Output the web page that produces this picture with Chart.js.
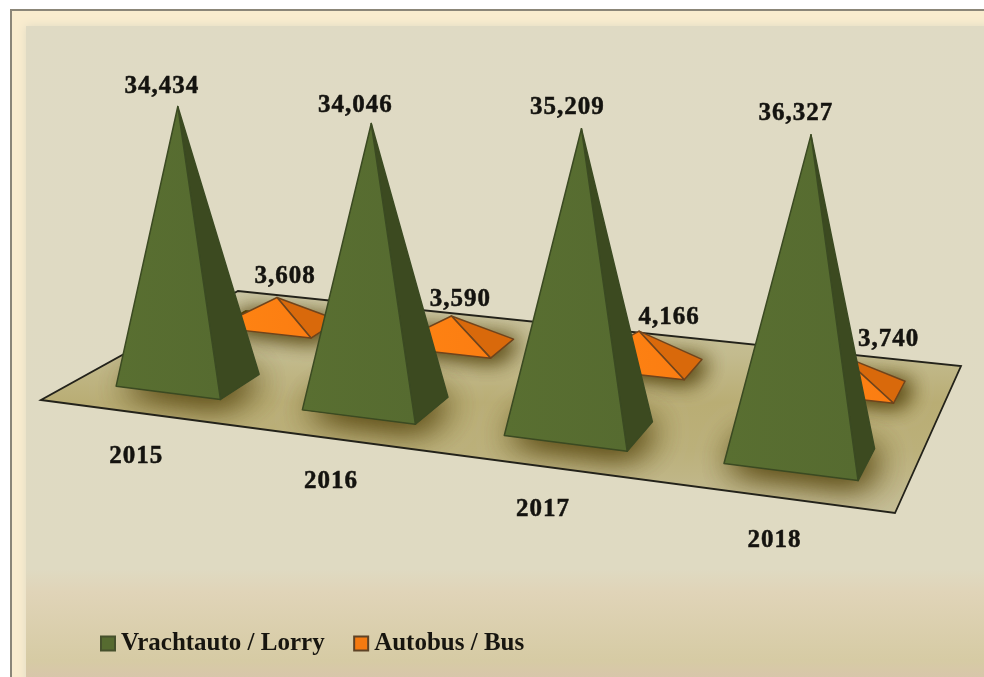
<!DOCTYPE html>
<html><head><meta charset="utf-8">
<style>html,body{margin:0;padding:0;background:#fff}canvas{display:block}</style>
<script src="https://cdn.jsdelivr.net/npm/chart.js@4"></script>
</head><body><canvas id="c" width="984" height="677"></canvas>
<script>
const categories = ['2015', '2016', '2017', '2018'];
const lorry = [34434, 34046, 35209, 36327];
const bus = [3608, 3590, 4166, 3740];
const seriesNames = ['Vrachtauto / Lorry', 'Autobus / Bus'];

// floor plane corners in canvas space: front-left, front-right, back-right, back-left
const FLOOR = [[41,400],[895,513],[961,366],[238,291]];
const STYLE = [
  {depth:.25, halfDepth:.10, leftRatio:.9, front:'#566b30', frontHi:'#596f31', side:'#3c4a20', line:'#3b4a22',
   labelDx:[-16,-16,-14,-15], labelDy:[-20,-18,-21,-21]},
  {depth:.75, halfDepth:.085, leftRatio:1, front:'#fb7d12', frontHi:'#ff8412', side:'#d9690b', line:'#70441c',
   labelDx:[8,9,30,47], labelDy:[-21,-16,-14,-16]}
];
const FONT = 'bold 25px "Liberation Serif", serif';

function homography(q){
  const [p0,p1,p2,p3]=q;
  const sx=p0[0]-p1[0]+p2[0]-p3[0], sy=p0[1]-p1[1]+p2[1]-p3[1];
  const dx1=p1[0]-p2[0], dx2=p3[0]-p2[0], dy1=p1[1]-p2[1], dy2=p3[1]-p2[1];
  const det=dx1*dy2-dx2*dy1;
  const g=(sx*dy2-dx2*sy)/det, h=(dx1*sy-sx*dy1)/det;
  const a=p1[0]-p0[0]+g*p1[0], b=p3[0]-p0[0]+h*p3[0], c=p0[0];
  const d=p1[1]-p0[1]+g*p1[1], e=p3[1]-p0[1]+h*p3[1], f=p0[1];
  return (u,v)=>{const w=g*u+h*v+1;return [(a*u+b*v+c)/w,(d*u+e*v+f)/w];};
}
const project = homography(FLOOR);

function poly(ctx,pts){ctx.beginPath();pts.forEach((p,i)=>i?ctx.lineTo(p[0],p[1]):ctx.moveTo(p[0],p[1]));ctx.closePath();}

function geometry(chart,dsIndex,i){
  const area=chart.chartArea, bar=chart.getDatasetMeta(dsIndex).data[i], st=STYLE[dsIndex];
  const yS=chart.scales.y, value=chart.data.datasets[dsIndex].data[i];
  const u=(bar.x-area.left)/area.width, hu=bar.width/2/area.width;
  const c=project(u,st.depth);
  const persp=.796+(c[1]-380)*.00118;
  const h=(yS.getPixelForValue(0)-yS.getPixelForValue(value))*persp;
  const apex=[c[0]+(c[0]-420)*h*.00012,c[1]-h];
  return {
    apex,
    fl:project(u-hu*st.leftRatio,st.depth-st.halfDepth),
    fr:project(u+hu,st.depth-st.halfDepth),
    br:project(u+hu,st.depth+st.halfDepth),
    bl:project(u-hu*st.leftRatio,st.depth+st.halfDepth)
  };
}

const pyramids = {
  id:'pyramids',
  beforeDraw(chart){
    const ctx=chart.ctx,W=chart.width,H=chart.height;
    ctx.save();
    ctx.fillStyle='#fff';ctx.fillRect(0,0,W,H);
    ctx.fillStyle='#8b8678';ctx.fillRect(10,9,W,H);
    ctx.fillStyle='#f9ecce';ctx.fillRect(12,11,W,H);
    const g=ctx.createLinearGradient(0,0,0,H);
    g.addColorStop(0,'#dfdac4');g.addColorStop(.84,'#dfdac2');g.addColorStop(.875,'#e0d4b8');
    g.addColorStop(.975,'#d6cba4');g.addColorStop(1,'#d8c6aa');
    ctx.shadowColor='#dfdac4';ctx.shadowBlur=9;
    ctx.fillStyle=g;ctx.fillRect(26,26,W+30,H+30);
    ctx.restore();
  },
  beforeDatasetsDraw(chart){
    const ctx=chart.ctx;
    ctx.save();
    const g=ctx.createLinearGradient(0,295,0,510);
    g.addColorStop(0,'#cbc6a3');g.addColorStop(.28,'#c3bb8e');g.addColorStop(.5,'#b9ad74');
    g.addColorStop(.72,'#bbb07a');g.addColorStop(1,'#c4bc94');
    poly(ctx,FLOOR);ctx.fillStyle=g;ctx.fill();
    ctx.save();poly(ctx,FLOOR);ctx.clip();
    [1,0].forEach(ds=>categories.forEach((_,i)=>{
      const p=geometry(chart,ds,i);
      for(let pass=0;pass<2;pass++){
        ctx.shadowColor='rgba(82,66,10,.95)';ctx.shadowBlur=ds?22:34;ctx.shadowOffsetX=ds?7:4;ctx.shadowOffsetY=ds?2:4;
        ctx.fillStyle='rgba(82,66,10,.95)';
        poly(ctx,[p.fl,p.fr,p.br,p.bl]);ctx.fill();
      }
    }));
    ctx.restore();
    poly(ctx,FLOOR);ctx.strokeStyle='#23221a';ctx.lineWidth=1.8;ctx.stroke();
    ctx.fillStyle='#14130f';ctx.strokeStyle='#14130f';ctx.lineWidth=.5;ctx.font=FONT;ctx.letterSpacing='1px';ctx.textAlign='center';ctx.textBaseline='middle';
    const xS=chart.scales.x,a=chart.chartArea;
    categories.forEach((c,i)=>{
      const p=project((xS.getPixelForValue(i)-a.left)/a.width,0);
      ctx.fillText(c,p[0]+3.5,p[1]+44);ctx.strokeText(c,p[0]+3.5,p[1]+44);
    });
    ctx.restore();
  },
  beforeDatasetDraw(chart,args){
    const ctx=chart.ctx,ds=args.index,st=STYLE[ds];
    ctx.save();
    ctx.lineJoin='round';ctx.lineWidth=1.5;ctx.strokeStyle=st.line;
    categories.forEach((_,i)=>{
      const p=geometry(chart,ds,i);
      const g=ctx.createLinearGradient(p.fl[0],0,p.fr[0],0);
      g.addColorStop(0,st.frontHi);g.addColorStop(1,st.front);
      poly(ctx,[p.apex,p.fr,p.br]);ctx.fillStyle=st.side;ctx.fill();ctx.stroke();
      poly(ctx,[p.apex,p.fl,p.fr]);ctx.fillStyle=g;ctx.fill();ctx.stroke();
    });
    ctx.restore();
    return false;
  },
  afterDatasetsDraw(chart){
    const ctx=chart.ctx;
    ctx.save();
    ctx.fillStyle='#14130f';ctx.strokeStyle='#14130f';ctx.lineWidth=.5;ctx.font=FONT;ctx.letterSpacing='1px';ctx.textAlign='center';ctx.textBaseline='middle';
    chart.data.datasets.forEach((d,ds)=>d.data.forEach((v,i)=>{
      const p=geometry(chart,ds,i),t=v.toLocaleString('en-US');
      const x=p.apex[0]+STYLE[ds].labelDx[i],y=p.apex[1]+STYLE[ds].labelDy[i];
      ctx.fillText(t,x,y);ctx.strokeText(t,x,y);
    }));
    ctx.restore();
  }
};

new Chart(document.getElementById('c'),{
  type:'bar',
  data:{labels:categories,datasets:[
    {label:seriesNames[0],data:lorry,backgroundColor:'#566b30',borderColor:'#46512c',borderWidth:2,barPercentage:.6,categoryPercentage:1},
    {label:seriesNames[1],data:bus,backgroundColor:'#f57a10',borderColor:'#5e4326',borderWidth:2,barPercentage:.56,categoryPercentage:1}
  ]},
  plugins:[pyramids],
  options:{
    responsive:false,animation:false,
    datasets:{bar:{grouped:false}},
    layout:{padding:{left:71.5,bottom:11,top:0,right:0}},
    scales:{
      x:{display:false},
      y:{display:false,min:0,max:59650}
    },
    plugins:{
      tooltip:{enabled:false},
      legend:{position:'bottom',align:'start',labels:{
        usePointStyle:true,pointStyle:'rect',boxWidth:1,boxHeight:14,padding:36,color:'#17150f',
        font:{family:'"Liberation Serif", serif',size:25,weight:'bold'}
      }}
    }
  }
});
</script></body></html>
